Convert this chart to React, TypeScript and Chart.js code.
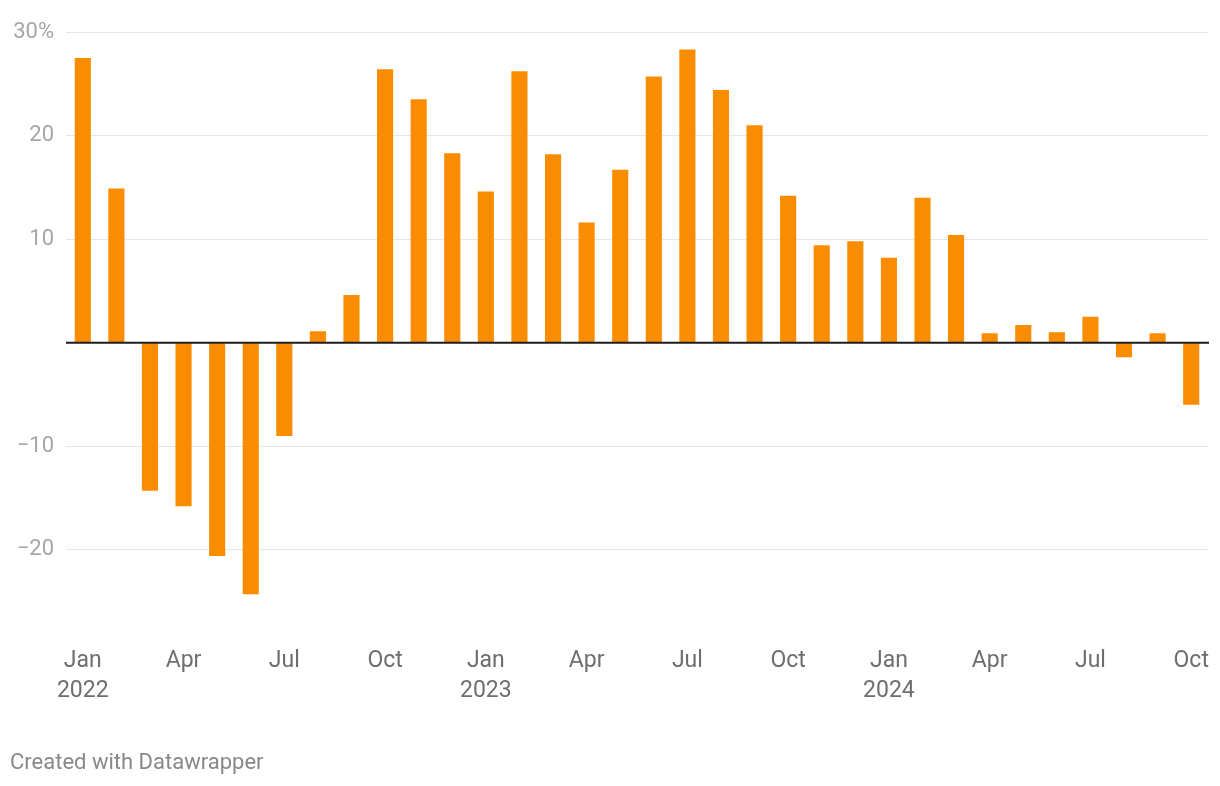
import React, { useEffect, useRef } from "react";
import { Chart, registerables } from "chart.js";

Chart.register(...registerables);

const categories = [
  "Jan 2022", "Feb 2022", "Mar 2022", "Apr 2022", "May 2022", "Jun 2022",
  "Jul 2022", "Aug 2022", "Sep 2022", "Oct 2022", "Nov 2022", "Dec 2022",
  "Jan 2023", "Feb 2023", "Mar 2023", "Apr 2023", "May 2023", "Jun 2023",
  "Jul 2023", "Aug 2023", "Sep 2023", "Oct 2023", "Nov 2023", "Dec 2023",
  "Jan 2024", "Feb 2024", "Mar 2024", "Apr 2024", "May 2024", "Jun 2024",
  "Jul 2024", "Aug 2024", "Sep 2024", "Oct 2024",
];

const values = [
  27.5, 14.9, -14.3, -15.8, -20.6, -24.3,
  -9.0, 1.1, 4.6, 26.4, 23.5, 18.3,
  14.6, 26.2, 18.2, 11.6, 16.7, 25.7,
  28.3, 24.4, 21.0, 14.2, 9.4, 9.8,
  8.2, 14.0, 10.4, 0.9, 1.7, 1.0,
  2.5, -1.4, 0.9, -6.0,
];

const shownMonths = ["Jan", "Apr", "Jul", "Oct"];
const yTickValues = [-20, -10, 0, 10, 20, 30];
const yTickLabels = ["\u221220", "\u221210", "", "10", "20", "30%"];
const footerText = "Created with Datawrapper";

const BAR_COLOR = "#fa8c00";

const zeroLinePlugin = {
  id: "zeroLine",
  afterDatasetsDraw(chart: any) {
    const { ctx, chartArea, scales } = chart;
    const y = scales.y.getPixelForValue(0);
    ctx.save();
    ctx.strokeStyle = "#1d1d1d";
    ctx.lineWidth = 2;
    ctx.beginPath();
    ctx.moveTo(chartArea.left, y);
    ctx.lineTo(chartArea.right + 1, y);
    ctx.stroke();
    ctx.restore();
  },
};

export default function App() {
  const canvasRef = useRef<HTMLCanvasElement | null>(null);

  useEffect(() => {
    if (!canvasRef.current) return;
    Chart.defaults.font.family = "Roboto, 'Noto Sans', sans-serif";
    const chart = new Chart(canvasRef.current, {
      type: "bar",
      data: {
        labels: categories,
        datasets: [
          {
            data: values,
            backgroundColor: BAR_COLOR,
            borderWidth: 0,
            categoryPercentage: 1,
            barPercentage: 0.48,
          },
        ],
      },
      plugins: [zeroLinePlugin],
      options: {
        animation: false,
        responsive: true,
        maintainAspectRatio: false,
        layout: { padding: { left: 0, right: 12, top: 32, bottom: 63.7 } },
        plugins: {
          legend: { display: false },
          tooltip: { enabled: false },
          title: { display: false },
        },
        scales: {
          x: {
            type: "category",
            offset: true,
            grid: { display: false, drawTicks: false },
            border: { display: false },
            afterFit: (scale: any) => {
              scale.height = 100;
              scale.paddingLeft = 0;
              scale.paddingRight = 0;
            },
            ticks: {
              autoSkip: false,
              maxRotation: 0,
              minRotation: 0,
              padding: 24,
              color: "#6e6e6e",
              font: { size: 23, lineHeight: 1.3 },
              callback: (_v: any, i: number) => {
                const [m, y] = categories[i].split(" ");
                if (!shownMonths.includes(m)) return "";
                return m === "Jan" ? [m, y] : m;
              },
            },
          },
          y: {
            type: "linear",
            min: -27,
            max: 30,
            afterFit: (scale: any) => {
              scale.width = 66;
              scale.paddingTop = 0;
              scale.paddingBottom = 0;
            },
            afterBuildTicks: (scale: any) => {
              scale.ticks = yTickValues.map((v) => ({ value: v }));
            },
            grid: {
              drawTicks: false,
              color: (ctx: any) =>
                ctx.tick && ctx.tick.value === 0 ? "rgba(0,0,0,0)" : "#e6e6e6",
              lineWidth: 1,
            },
            border: { display: false },
            ticks: {
              padding: 12,
              color: "#a6a6a6",
              font: { size: 22 },
              callback: (v: any) => {
                const idx = yTickValues.indexOf(Number(v));
                return idx >= 0 ? yTickLabels[idx] : "";
              },
            },
          },
        },
      },
    });
    return () => chart.destroy();
  }, []);

  return (
    <div
      style={{
        position: "fixed",
        left: 0,
        top: 0,
        width: 1220,
        height: 786,
        background: "#fff",
      }}
    >
      <canvas ref={canvasRef} />
      <div
        style={{
          position: "absolute",
          left: 10,
          top: 751,
          fontFamily: "Roboto, 'Noto Sans', sans-serif",
          fontSize: 22,
          lineHeight: "22px",
          color: "#888888",
          whiteSpace: "nowrap",
        }}
      >
        {footerText}
      </div>
    </div>
  );
}
